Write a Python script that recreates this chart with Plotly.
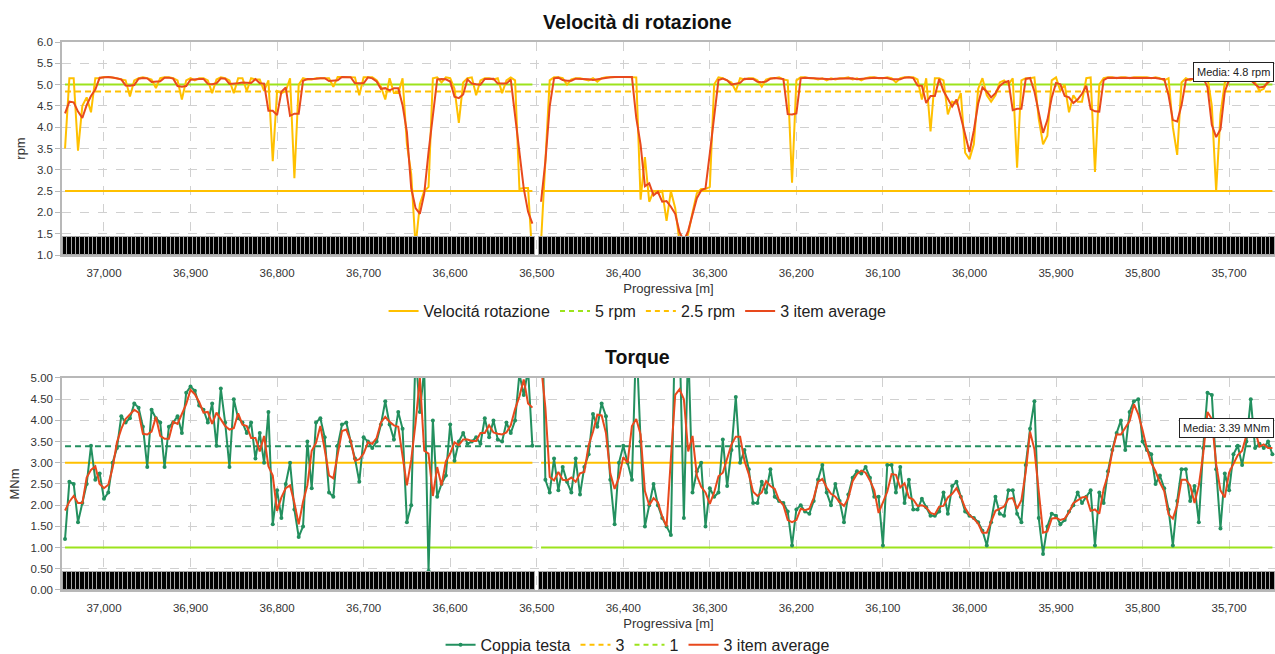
import plotly.graph_objects as go

# ---------------- data ----------------
progressiva = list(range(37045, 35645, -5))  # sampling positions [m], 280 samples

# rotation speed [rpm] (groups of 10 samples = 50 m)
velocita = [
    3.5, 5.15, 5.15, 3.45, 4.5, 4.7, 4.35, 5.15, 5.15, 5.18,        # 37045
    5.18, 5.17, 5.15, 5.12, 5.1, 4.72, 5.1, 5.15, 5.17, 5.15,       # 36995
    5.12, 4.92, 5.15, 5.17, 5.17, 5.15, 5.1, 4.65, 5.1, 5.15,       # 36945
    5.1, 5.15, 5.15, 5.1, 4.8, 5.12, 5.17, 5.15, 5.1, 4.8,          # 36895
    5.15, 5.15, 4.85, 5.15, 5.12, 5.12, 4.85, 5.1, 3.2, 4.85,       # 36845
    4.8, 4.85, 5.15, 2.8, 5.0, 5.15, 5.12, 5.12, 5.15, 5.15,        # 36795
    5.15, 5.15, 4.95, 5.18, 5.18, 5.18, 5.17, 5.17, 4.75, 5.17,     # 36745
    5.17, 5.17, 5.1, 4.95, 4.65, 5.15, 4.8, 4.8, 5.15, 3.6,         # 36695
    2.9, 1.2, 2.2, 2.5, 2.6, 5.15, 5.17, 5.05, 5.17, 5.15,          # 36645
    4.9, 4.1, 5.05, 5.15, 5.17, 4.75, 5.1, 5.15, 5.15, 5.12,        # 36595
    5.15, 4.8, 5.1, 5.17, 5.1, 2.55, 2.57, 2.57, 0.9, None,         # 36545
    1.3, 3.2, 5.1, 5.17, 5.17, 5.15, 5.0, 5.12, 5.15, 5.15,         # 36495
    5.12, 5.1, 5.15, 5.07, 5.15, 5.17, 5.17, 5.18, 5.18, 5.18,      # 36445
    5.18, 5.18, 5.17, 2.3, 3.3, 2.25, 2.5, 2.45, 2.5, 1.8,          # 36395
    2.5, 2.1, 1.3, 1.2, 1.5, 2.0, 2.45, 2.55, 2.55, 2.6,            # 36345
    5.0, 5.17, 5.15, 5.1, 5.05, 4.85, 5.15, 5.12, 5.15, 5.15,       # 36295
    5.1, 4.95, 5.12, 5.15, 5.15, 5.17, 5.12, 5.1, 2.7, 5.1,         # 36245
    5.17, 5.17, 5.15, 5.15, 5.12, 5.15, 5.1, 5.15, 5.12, 5.15,      # 36195
    5.15, 5.17, 5.12, 5.15, 5.1, 5.15, 5.17, 5.17, 5.15, 5.15,      # 36145
    5.17, 5.15, 5.05, 5.15, 5.17, 5.17, 5.17, 5.12, 4.65, 5.15,     # 36095
    3.9, 5.15, 5.15, 5.1, 4.3, 4.6, 4.55, 4.8, 3.4, 3.25,           # 36045
    3.6, 4.9, 5.15, 4.75, 4.6, 4.75, 5.05, 5.1, 5.0, 5.15,          # 35995
    3.05, 5.1, 5.15, 5.15, 5.17, 4.2, 3.6, 3.8, 5.1, 5.17,          # 35945
    4.85, 5.0, 4.35, 4.75, 4.6, 4.6, 5.15, 5.17, 2.95, 5.0,         # 35895
    5.15, 5.17, 5.17, 5.15, 5.17, 5.17, 5.15, 5.17, 5.17, 5.17,     # 35845
    5.17, 5.15, 5.17, 5.15, 5.1, 5.15, 4.0, 3.35, 5.05, 5.15,       # 35795
    5.1, 5.15, 5.17, 5.15, 5.17, 4.5, 2.5, 4.3, 5.05, 5.15,         # 35745
    5.15, 5.17, 5.15, 5.15, 5.12, 5.05, 4.85, 4.9, 5.1, 5.15,       # 35695
]

# head torque [MNm]
coppia = [
    1.2, 2.55, 2.5, 1.6, 2.05, 2.5, 3.4, 2.6, 2.75, 2.15,           # 37045
    2.3, 3.0, 3.35, 4.1, 3.95, 4.05, 4.4, 4.3, 3.85, 2.9,           # 36995
    4.25, 4.05, 3.95, 2.9, 3.85, 3.95, 4.1, 3.7, 4.65, 4.8,         # 36945
    4.7, 4.35, 4.25, 3.95, 4.4, 3.4, 4.75, 3.95, 2.9, 4.5,          # 36895
    4.05, 3.95, 3.7, 3.95, 3.1, 3.7, 3.0, 4.2, 1.55, 2.35,          # 36845
    1.7, 2.5, 3.0, 1.9, 1.25, 1.5, 3.5, 2.4, 3.95, 4.05,            # 36795
    3.6, 2.3, 2.2, 3.4, 3.9, 3.95, 3.5, 3.1, 2.55, 3.6,             # 36745
    3.5, 3.35, 3.5, 3.9, 4.45, 3.9, 3.55, 4.2, 3.8, 1.6,            # 36695
    2.0, 5.6, 4.2, 5.2, 0.45, 4.0, 2.2, 2.5, 2.7, 3.9,              # 36645
    3.05, 3.5, 3.7, 3.45, 3.5, 3.6, 3.45, 4.05, 3.6, 4.0,           # 36595
    3.55, 3.5, 3.95, 3.7, 4.0, 5.1, 4.6, 5.2, 3.4, None,            # 36545
    8.0, 2.6, 2.3, 3.1, 2.35, 2.9, 2.55, 2.3, 3.1, 2.25,            # 36495
    2.9, 3.2, 4.15, 3.85, 4.4, 4.1, 2.6, 1.55, 3.0, 3.4,            # 36445
    3.0, 2.6, 6.0, 3.5, 1.5, 2.0, 2.5, 2.0, 1.7, 1.5,               # 36395
    1.3, 6.5, 6.0, 1.7, 5.8, 2.3, 2.8, 3.0, 1.5, 2.4,               # 36345
    2.2, 2.3, 3.55, 2.45, 3.3, 4.55, 3.0, 3.3, 2.85, 2.05,          # 36295
    2.05, 2.55, 2.3, 2.85, 2.2, 2.1, 2.05, 1.85, 1.05, 1.9,         # 36245
    2.0, 1.85, 1.8, 2.1, 2.6, 2.95, 2.3, 2.0, 2.5, 2.1,             # 36195
    1.6, 2.25, 2.65, 2.8, 2.75, 2.9, 2.65, 2.2, 2.2, 1.05,          # 36145
    2.95, 2.95, 2.3, 2.9, 2.05, 2.6, 1.9, 1.9, 2.15, 1.95,          # 36095
    1.75, 1.75, 1.85, 2.3, 1.8, 2.45, 2.55, 2.2, 1.85, 1.75,        # 36045
    1.7, 1.6, 1.4, 1.05, 1.6, 2.2, 1.8, 1.75, 2.35, 2.35,           # 35995
    1.8, 1.6, 2.95, 3.8, 4.45, 1.7, 0.85, 1.5, 1.8, 1.75,           # 35945
    1.55, 1.65, 1.85, 2.0, 2.3, 2.05, 2.2, 2.35, 1.05, 2.3,         # 35895
    2.05, 2.8, 3.3, 3.7, 4.0, 3.3, 4.2, 4.45, 4.5, 3.5,             # 35845
    3.3, 3.2, 2.5, 2.7, 2.4, 1.9, 1.05, 2.1, 2.85, 2.85,            # 35795
    2.1, 2.45, 1.6, 3.35, 4.65, 4.6, 2.85, 1.45, 2.75, 2.35,        # 35745
    3.2, 3.4, 2.95, 3.5, 4.5, 3.35, 3.45, 3.35, 3.5, 3.2,           # 35695
]

SOGLIA_RPM_ALTA = 5.0
SOGLIA_RPM_BASSA = 2.5
MEDIA_RPM = 4.84
SOGLIA_COPPIA_ALTA = 3.0
SOGLIA_COPPIA_BASSA = 1.0
MEDIA_COPPIA = 3.39
ANELLO_ALTEZZA = 0.42


def media_mobile(vals):
    out = []
    for i, v in enumerate(vals):
        if v is None:
            out.append(None)
            continue
        win = [vals[j] for j in (i - 1, i, i + 1) if 0 <= j < len(vals) and vals[j] is not None]
        out.append(sum(win) / len(win))
    return out


def soglia(value, ref):
    return [value if v is not None else None for v in ref]


vel_avg = media_mobile(velocita)
cop_avg = media_mobile(coppia)
anelli = [p for p, v in zip(progressiva, coppia) if v is not None]

# ---------------- style ----------------
YELLOW = "#FFC000"
RED = "#E8491D"
LIME = "#9CE31C"
GREEN = "#23905F"
GRID = "#D0D0D0"
AXIS = "#B8B8B8"
FONT = "Liberation Sans, Arial, sans-serif"
TXT = "#333333"

fig = go.Figure()

# ---- top: rotation speed ----
fig.add_trace(go.Scatter(x=progressiva, y=soglia(SOGLIA_RPM_ALTA, velocita), mode="lines",
                         line=dict(color=LIME, width=2), showlegend=False, xaxis="x", yaxis="y"))
fig.add_trace(go.Scatter(x=progressiva, y=soglia(SOGLIA_RPM_BASSA, velocita), mode="lines",
                         line=dict(color=YELLOW, width=2), showlegend=False, xaxis="x", yaxis="y"))
fig.add_trace(go.Scatter(x=[progressiva[0], progressiva[-1]], y=[MEDIA_RPM, MEDIA_RPM], mode="lines",
                         line=dict(color=YELLOW, width=2, dash="6px,4px"), showlegend=False,
                         xaxis="x", yaxis="y"))
fig.add_trace(go.Scatter(x=progressiva, y=velocita, mode="lines", name="Velocitá rotazione",
                         line=dict(color=YELLOW, width=2), legend="legend", legendrank=1,
                         xaxis="x", yaxis="y"))
fig.add_trace(go.Scatter(x=[None], y=[None], mode="lines", name="5 rpm",
                         line=dict(color=LIME, width=2, dash="5px,4px"), legend="legend",
                         legendrank=2, xaxis="x", yaxis="y"))
fig.add_trace(go.Scatter(x=[None], y=[None], mode="lines", name="2.5 rpm",
                         line=dict(color=YELLOW, width=2, dash="5px,4px"), legend="legend",
                         legendrank=3, xaxis="x", yaxis="y"))
fig.add_trace(go.Scatter(x=progressiva, y=vel_avg, mode="lines", name="3 item average",
                         line=dict(color=RED, width=2), legend="legend", legendrank=4,
                         xaxis="x", yaxis="y"))
fig.add_trace(go.Bar(x=anelli, y=[ANELLO_ALTEZZA] * len(anelli), base=SOGLIA_RPM_BASSA - 1.5,
                     width=5, marker=dict(color="black", line=dict(color="#A8A8A8", width=1)),
                     showlegend=False, xaxis="x", yaxis="y3"))

# ---- bottom: torque ----
fig.add_trace(go.Scatter(x=progressiva, y=soglia(SOGLIA_COPPIA_ALTA, coppia), mode="lines",
                         line=dict(color=YELLOW, width=2), showlegend=False, xaxis="x2", yaxis="y2"))
fig.add_trace(go.Scatter(x=progressiva, y=soglia(SOGLIA_COPPIA_BASSA, coppia), mode="lines",
                         line=dict(color=LIME, width=2), showlegend=False, xaxis="x2", yaxis="y2"))
fig.add_trace(go.Scatter(x=[progressiva[0], progressiva[-1]], y=[MEDIA_COPPIA, MEDIA_COPPIA],
                         mode="lines", line=dict(color=GREEN, width=2, dash="6px,4px"),
                         showlegend=False, xaxis="x2", yaxis="y2"))
fig.add_trace(go.Scatter(x=progressiva, y=coppia, mode="lines+markers", name="Coppia testa",
                         line=dict(color=GREEN, width=2), marker=dict(color=GREEN, size=4),
                         legend="legend2", legendrank=1, xaxis="x2", yaxis="y2"))
fig.add_trace(go.Scatter(x=[None], y=[None], mode="lines", name="3",
                         line=dict(color=YELLOW, width=2, dash="5px,4px"), legend="legend2",
                         legendrank=2, xaxis="x2", yaxis="y2"))
fig.add_trace(go.Scatter(x=[None], y=[None], mode="lines", name="1",
                         line=dict(color=LIME, width=2, dash="5px,4px"), legend="legend2",
                         legendrank=3, xaxis="x2", yaxis="y2"))
fig.add_trace(go.Scatter(x=progressiva, y=cop_avg, mode="lines", name="3 item average",
                         line=dict(color=RED, width=2), legend="legend2", legendrank=4,
                         xaxis="x2", yaxis="y2"))
fig.add_trace(go.Bar(x=anelli, y=[ANELLO_ALTEZZA] * len(anelli), base=0,
                     width=5, marker=dict(color="black", line=dict(color="#A8A8A8", width=1)),
                     showlegend=False, xaxis="x2", yaxis="y4"))

XRANGE = [37048.5, 35647]
TOP_DOM = [0.6113, 1.0]
BOT_DOM = [0.0, 0.3869]

xcommon = dict(range=XRANGE, dtick=100, tick0=37000, tickformat=",d", showgrid=True,
               gridcolor=GRID, griddash="dash", gridwidth=1, showline=True, mirror=True,
               linecolor=AXIS, linewidth=1.5, ticks="outside", ticklen=6,
               tickcolor="rgba(0,0,0,0)", zeroline=False, automargin=False,
               tickfont=dict(family=FONT, size=11.5, color=TXT),
               title=dict(text="Progressiva [m]", font=dict(family=FONT, size=13, color=TXT),
                          standoff=6))
ycommon = dict(showgrid=True, gridcolor=GRID, griddash="dash", gridwidth=1, showline=True,
               linecolor=AXIS, linewidth=1.5, ticks="outside", ticklen=5, tickcolor=AXIS,
               zeroline=False, automargin=False,
               tickfont=dict(family=FONT, size=11.5, color=TXT), dtick=0.5)

fig.update_layout(
    width=1275, height=654,
    margin=dict(l=62, r=0, t=42, b=64, autoexpand=False),
    paper_bgcolor="white", plot_bgcolor="white",
    font=dict(family=FONT, color=TXT),
    xaxis=dict(**xcommon, anchor="y"),
    xaxis2=dict(**xcommon, anchor="y2"),
    yaxis=dict(**ycommon, domain=TOP_DOM, range=[1.0, 6.0], tickformat=".1f", anchor="x",
               title=dict(text="rpm", font=dict(family=FONT, size=13, color=TXT), standoff=8)),
    yaxis2=dict(**ycommon, domain=BOT_DOM, range=[0.0, 5.0], tickformat=".2f", anchor="x2",
                title=dict(text="MNm", font=dict(family=FONT, size=13, color=TXT), standoff=8)),
    yaxis3=dict(overlaying="y", range=[1.0, 6.0], visible=False, anchor="x"),
    yaxis4=dict(overlaying="y2", range=[0.0, 5.0], visible=False, anchor="x2"),
    bargap=0,
    showlegend=True,
    legend=dict(orientation="h", x=0.4745, xanchor="center", y=0.509, yanchor="middle",
                font=dict(family=FONT, size=16, color="#222"), bgcolor="rgba(0,0,0,0)"),
    legend2=dict(orientation="h", x=0.4745, xanchor="center", y=-0.1, yanchor="middle",
                 font=dict(family=FONT, size=16, color="#222"), bgcolor="rgba(0,0,0,0)"),
    annotations=[
        dict(text="<b>Velocità di rotazione</b>", x=0.4745, y=1.0365, xref="paper", yref="paper",
             xanchor="center", yanchor="middle", showarrow=False,
             font=dict(family=FONT, size=19.5, color="#111")),
        dict(text="<b>Torque</b>", x=0.4745, y=0.4252, xref="paper", yref="paper",
             xanchor="center", yanchor="middle", showarrow=False,
             font=dict(family=FONT, size=19.5, color="#111")),
        dict(text="Media: 4.8 rpm", x=0.9995, y=5.29, xref="paper", yref="y", xanchor="right",
             yanchor="middle", showarrow=False, bgcolor="white", bordercolor="#222",
             borderwidth=1, borderpad=3, font=dict(family=FONT, size=11, color="#222")),
        dict(text="Media: 3.39 MNm", x=0.9995, y=3.82, xref="paper", yref="y2", xanchor="right",
             yanchor="middle", showarrow=False, bgcolor="white", bordercolor="#222",
             borderwidth=1, borderpad=3, font=dict(family=FONT, size=11, color="#222")),
    ],
)

fig.write_html(
    "out.html",
    config={"displayModeBar": False},
    post_script="document.body.style.margin='0';document.body.style.overflow='hidden';",
)
